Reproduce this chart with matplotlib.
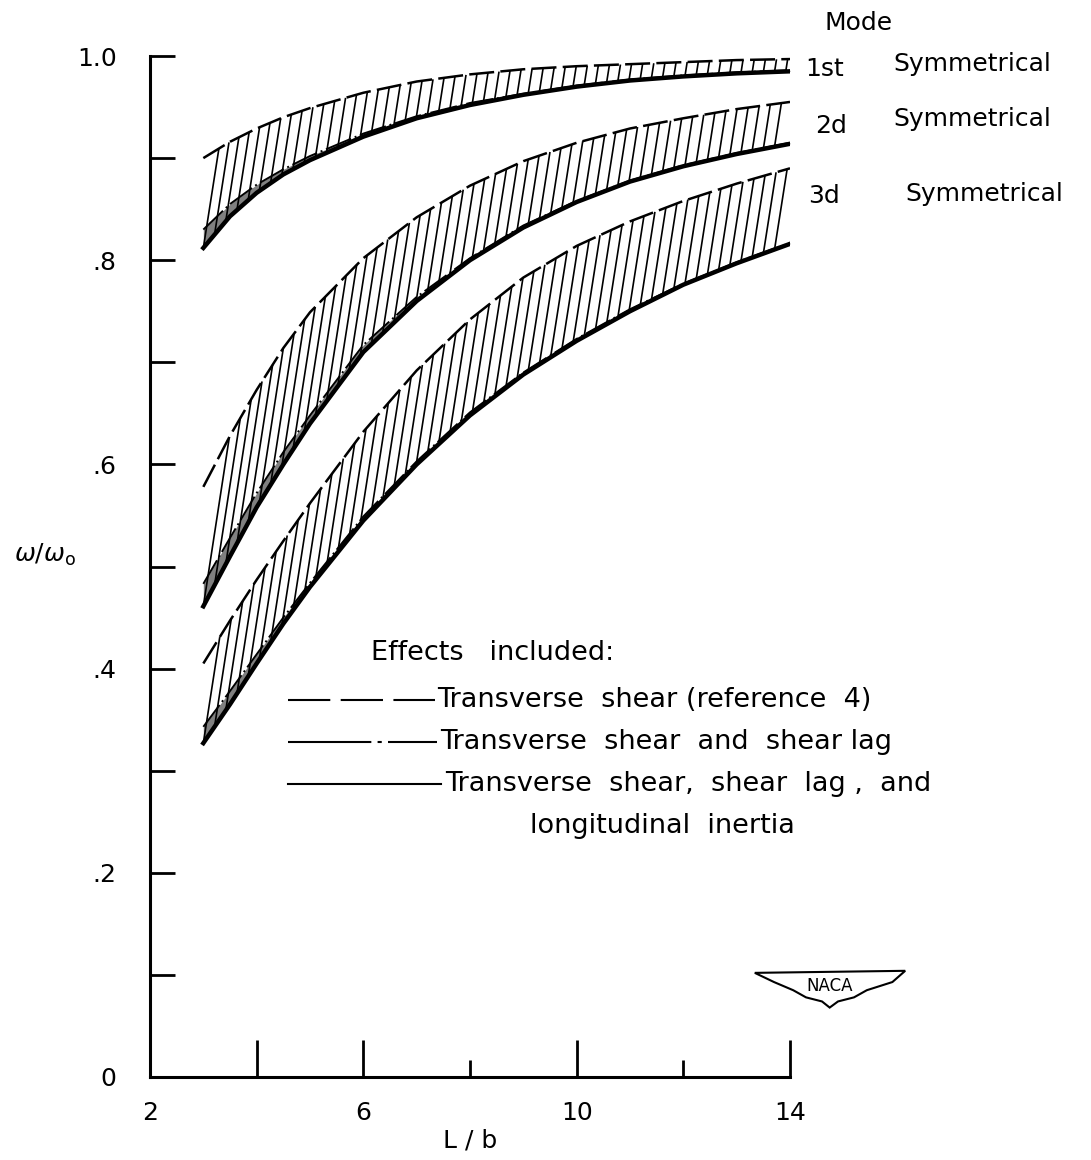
import numpy as np
import matplotlib.pyplot as plt
from matplotlib.collections import LineCollection
from matplotlib.patches import Polygon

plt.rcParams['font.family'] = ['DejaVu Sans']

# L/b stations
lb = [3, 3.5, 4, 4.5, 5, 6, 7, 8, 9, 10, 11, 12, 13, 14]

# transverse shear only (dashed)
ts_1 = [0.900, 0.916, 0.929, 0.940, 0.949, 0.964, 0.975, 0.982, 0.987, 0.990, 0.992, 0.994, 0.996, 0.997]
ts_2 = [0.578, 0.628, 0.673, 0.714, 0.749, 0.802, 0.842, 0.873, 0.897, 0.915, 0.929, 0.939, 0.948, 0.955]
ts_3 = [0.405, 0.447, 0.487, 0.525, 0.562, 0.632, 0.692, 0.742, 0.783, 0.814, 0.838, 0.858, 0.875, 0.890]

# transverse shear and shear lag (dash-dot)
sl_1 = [0.830, 0.855, 0.874, 0.889, 0.902, 0.924, 0.941, 0.954, 0.963, 0.971, 0.977, 0.981, 0.984, 0.986]
sl_2 = [0.483, 0.528, 0.572, 0.612, 0.648, 0.717, 0.764, 0.802, 0.834, 0.858, 0.878, 0.893, 0.905, 0.915]
sl_3 = [0.343, 0.378, 0.414, 0.450, 0.484, 0.549, 0.603, 0.651, 0.690, 0.723, 0.752, 0.777, 0.798, 0.817]

# transverse shear, shear lag and longitudinal inertia (solid)
li_1 = [0.812, 0.843, 0.866, 0.884, 0.898, 0.921, 0.939, 0.952, 0.962, 0.970, 0.976, 0.980, 0.983, 0.985]
li_2 = [0.461, 0.510, 0.558, 0.600, 0.640, 0.710, 0.760, 0.800, 0.832, 0.857, 0.877, 0.892, 0.904, 0.914]
li_3 = [0.327, 0.365, 0.405, 0.444, 0.480, 0.545, 0.600, 0.648, 0.688, 0.721, 0.750, 0.776, 0.797, 0.816]

modes = ['1st', '2d', '3d']
mode_y = [0.987, 0.931, 0.863]
sym_y = [0.992, 0.938, 0.865]
x_ticks = [2, 4, 6, 10, 14]
x_labels = ['2', '', '6', '10', '14']
y_ticks = [0, 0.2, 0.4, 0.6, 0.8, 1.0]
y_labels = ['0', '.2', '.4', '.6', '.8', '1.0']

FS = 18
LFS = 19.5

fig = plt.figure(figsize=(10.91, 11.6), dpi=100)
ax = fig.add_axes([150 / 1091, 83 / 1160, 640 / 1091, 1021 / 1160])
ax.set_xlim(2, 14)
ax.set_ylim(0, 1.0)

for ts, sl, li in [(ts_1, sl_1, li_1), (ts_2, sl_2, li_2), (ts_3, sl_3, li_3)]:
    ax.fill_between(lb, li, sl, color='0.5', lw=0)
    ax.plot(lb, ts, color='black', lw=1.8, dashes=(10, 2.5), solid_capstyle='butt')
    ax.plot(lb, sl, color='black', lw=1.4, dashes=(14, 2, 1, 2))
    ax.plot(lb, li, color='black', lw=3.2)

    # slanted hatching between the solid and dashed curves
    xs = np.arange(3.0, 14.0, 0.21)
    lo = np.interp(xs, lb, li)
    xt = xs.copy()
    for _ in range(3):
        xt = xs + 3.0 * (np.interp(xt, lb, ts) - lo)
    hi = np.interp(xt, lb, ts)
    keep = xt <= 14.0
    segs = [[(a, b), (c, d)] for a, b, c, d in zip(xs[keep], lo[keep], xt[keep], hi[keep])]
    ax.add_collection(LineCollection(segs, colors='black', linewidths=1.2))

# axes styling
for s in ['top', 'right']:
    ax.spines[s].set_visible(False)
for s in ['left', 'bottom']:
    ax.spines[s].set_linewidth(2.2)
ax.set_xticks(x_ticks)
ax.set_xticklabels(x_labels)
ax.set_xticks([8, 12], minor=True)
ax.set_yticks(y_ticks)
ax.set_yticklabels(y_labels)
ax.set_yticks([0.1, 0.3, 0.5, 0.7, 0.9], minor=True)
ax.tick_params(axis='x', which='major', direction='in', length=27, width=2, pad=17, labelsize=FS)
ax.tick_params(axis='x', which='minor', direction='in', length=12, width=2)
ax.tick_params(axis='y', which='both', direction='in', length=18, width=2, pad=24, labelsize=FS)

ax.text(0.5, -0.062, 'L / b', transform=ax.transAxes, ha='center', va='center', fontsize=FS)
ax.text(-0.164, 0.511, r'$\omega/\omega_\mathregular{o}$', transform=ax.transAxes,
        ha='center', va='center', fontsize=FS)

# mode labels
ax.text(15.28, 1.032, 'Mode', ha='center', va='center', fontsize=FS, clip_on=False)
mode_x = [14.28, 14.47, 14.34]
sym_x = [15.93, 15.93, 16.16]
for m, mx, my, sx, sy in zip(modes, mode_x, mode_y, sym_x, sym_y):
    ax.text(mx, my, m, ha='left', va='center', fontsize=FS, clip_on=False)
    ax.text(sx, sy, 'Symmetrical', ha='left', va='center', fontsize=FS, clip_on=False)

# legend block
ax.text(0.345, 0.415, 'Effects   included:', transform=ax.transAxes, ha='left', va='center', fontsize=LFS)
ax.plot([0.216, 0.445], [0.369, 0.369], transform=ax.transAxes, color='black', lw=1.5, dashes=(20.3, 5))
ax.text(0.449, 0.369, 'Transverse  shear (reference  4)', transform=ax.transAxes,
        ha='left', va='center', fontsize=LFS)
ax.plot([0.216, 0.449], [0.328, 0.328], transform=ax.transAxes, color='black', lw=1.5, dashes=(40, 3, 2, 3))
ax.text(0.453, 0.328, 'Transverse  shear  and  shear lag', transform=ax.transAxes,
        ha='left', va='center', fontsize=LFS)
ax.plot([0.216, 0.455], [0.287, 0.287], transform=ax.transAxes, color='black', lw=1.5)
ax.text(0.461, 0.287, 'Transverse  shear,  shear  lag ,  and', transform=ax.transAxes,
        ha='left', va='center', fontsize=LFS)
ax.text(0.594, 0.246, 'longitudinal  inertia', transform=ax.transAxes,
        ha='left', va='center', fontsize=LFS)

# NACA wing emblem
wing = [(0.945, 0.102), (1.18, 0.104), (1.16, 0.093), (1.12, 0.085), (1.10, 0.078),
        (1.075, 0.074), (1.062, 0.068), (1.05, 0.074), (1.025, 0.078), (1.005, 0.085),
        (0.975, 0.093)]
ax.add_patch(Polygon(wing, closed=True, fill=False, edgecolor='black', lw=1.5,
                     transform=ax.transAxes, clip_on=False))
ax.text(1.062, 0.089, 'NACA', transform=ax.transAxes, ha='center', va='center', fontsize=12)

fig.savefig('out.png', dpi=100)
